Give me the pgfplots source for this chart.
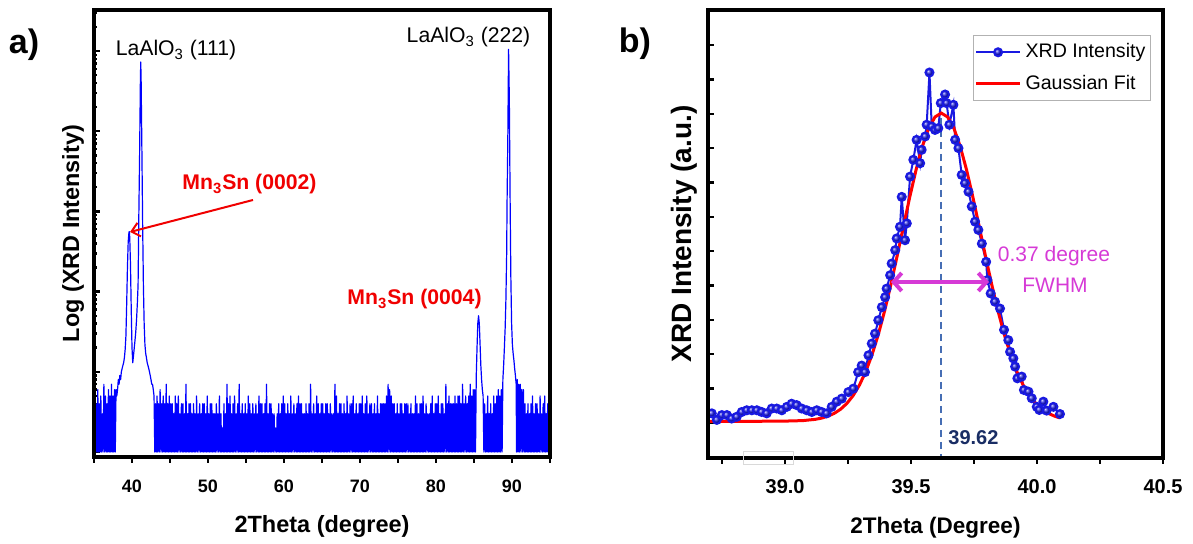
\documentclass[border=0pt]{standalone}
\usepackage{fontspec}
\setmainfont{Liberation Sans}
\usepackage{pgfplots}
\pgfplotsset{compat=1.18}
\usetikzlibrary{arrows.meta}
\definecolor{xblue}{RGB}{0,0,255}
\definecolor{bblue}{RGB}{25,25,225}
\definecolor{fitred}{RGB}{255,0,0}
\definecolor{anred}{RGB}{240,0,0}
\definecolor{mag}{RGB}{214,58,214}
\definecolor{dashblue}{RGB}{70,110,180}
\definecolor{navy}{RGB}{25,45,100}
\begin{document}
\begin{tikzpicture}
\path[use as bounding box] (0,0) rectangle (596.5pt,272pt);
% ---------------- panel a ----------------
\begin{axis}[
  name=A,
  at={(47pt,43.5pt)}, anchor=south west, scale only axis,
  width=228pt, height=223.5pt,
  xmin=35, xmax=95, ymode=log, ymin=0.867, ymax=3.25e5,
  xtick={35,40,...,95}, xticklabels={,40,,50,,60,,70,,80,,90,},
  ytick={1,10,100,1000,10000,100000}, yticklabels={},
  minor ytick={2,3,4,5,6,7,8,9,20,30,40,50,60,70,80,90,200,300,400,500,600,700,800,900,2000,3000,4000,5000,6000,7000,8000,9000,20000,30000,40000,50000,60000,70000,80000,90000,200000,300000},
  xtick pos=left, ytick pos=left, tick align=inside,
  major tick length=3pt, minor tick length=1.6pt,
  tick style={black, line width=1.2pt},
  xtick style={yshift=-3pt},
  xticklabel style={font=\bfseries\fontsize{9}{10}\selectfont, yshift=-8pt},
  xlabel={2Theta (degree)}, ylabel={Log (XRD Intensity)},
  xlabel style={font=\bfseries\fontsize{11.75}{13}\selectfont, at={(axis description cs:0.5,-0.1544)}, anchor=center},
  ylabel style={font=\bfseries\fontsize{11.7}{13}\selectfont, at={(axis description cs:-0.046,0.5)}, anchor=center},
]
\addplot[xblue, line width=0.6pt, line join=round] coordinates {
(35.0,1)(35.1,5)(35.2,1)(35.3,4)(35.4,1)(35.5,6)(35.6,1)(35.7,4)(35.8,1)(35.9,5)
(36.0,1)(36.1,3)(36.2,1)(36.3,7)(36.4,1)(36.5,5)(36.6,1)(36.7,4)(36.8,1)(36.9,6)
(37.0,1)(37.1,5)(37.2,1)(37.3,7)(37.4,1)(37.5,5)(37.6,1)(37.7,6)(37.8,1)(37.9,6)
(38.0,5)(38.1,6)(38.2,8)(38.3,7)(38.4,9)(38.5,8)(38.6,10)(38.7,11)(38.8,12)(38.9,13)
(39.0,15)(39.1,19)(39.2,28)(39.3,70)(39.4,200)(39.5,420)(39.6,550)(39.65,560)(39.7,480)(39.8,220)(39.9,60)
(40.0,20)(40.1,13)(40.2,16)(40.3,20)(40.4,25)(40.5,32)(40.6,45)(40.7,70)(40.8,120)(40.9,900)
(41.0,5000)(41.1,40000)(41.15,73000)(41.2,45000)(41.3,6000)(41.4,700)(41.5,120)(41.6,40)(41.7,22)(41.8,17)(41.9,15)
(42.0,13)(42.1,12)(42.2,11)(42.3,10)(42.4,9)(42.5,8)(42.6,7)(42.7,7)(42.8,6)(42.9,5)
(43.0,1)(43.1,4)(43.2,1)(43.3,5)(43.4,1)(43.5,4)(43.6,1)(43.7,6)(43.8,1)(43.9,4)
(44.0,1)(44.1,5)(44.2,1)(44.3,4)(44.4,1)(44.5,7)(44.6,1)(44.7,4)(44.8,1)(44.9,5)
(45.0,1)(45.1,4)(45.2,1)(45.3,4)(45.4,1)(45.5,3)(45.6,1)(45.7,5)(45.8,1)(45.9,4)
(46.0,1)(46.1,5)(46.2,1)(46.3,3)(46.4,1)(46.5,4)(46.6,1)(46.7,4)(46.8,1)(46.9,3)
(47.0,1)(47.1,7)(47.2,1)(47.3,3)(47.4,1)(47.5,4)(47.6,1)(47.7,4)(47.8,1)(47.9,3)
(48.0,1)(48.1,4)(48.2,1)(48.3,3)(48.4,1)(48.5,5)(48.6,1)(48.7,3)(48.8,1)(48.9,4)
(49.0,1)(49.1,3)(49.2,1)(49.3,4)(49.4,1)(49.5,4)(49.6,1)(49.7,3)(49.8,1)(49.9,5)
(50.0,1)(50.1,3)(50.2,1)(50.3,4)(50.4,1)(50.5,4)(50.6,1)(50.7,3)(50.8,1)(50.9,3)
(51.0,1)(51.1,4)(51.2,1)(51.3,3)(51.4,1)(51.5,5)(51.6,1)(51.7,3)(51.8,1)(51.9,2)
(52.0,1)(52.1,4)(52.2,1)(52.3,3)(52.4,1)(52.5,7)(52.6,1)(52.7,4)(52.8,1)(52.9,5)
(53.0,1)(53.1,3)(53.2,1)(53.3,4)(53.4,1)(53.5,5)(53.6,1)(53.7,3)(53.8,1)(53.9,4)
(54.0,1)(54.1,7)(54.2,1)(54.3,3)(54.4,1)(54.5,4)(54.6,1)(54.7,3)(54.8,1)(54.9,4)
(55.0,1)(55.1,3)(55.2,1)(55.3,5)(55.4,1)(55.5,4)(55.6,1)(55.7,3)(55.8,1)(55.9,4)
(56.0,1)(56.1,3)(56.2,1)(56.3,4)(56.4,1)(56.5,3)(56.6,1)(56.7,5)(56.8,1)(56.9,4)
(57.0,1)(57.1,4)(57.2,1)(57.3,3)(57.4,1)(57.5,4)(57.6,1)(57.7,7)(57.8,1)(57.9,3)
(58.0,1)(58.1,4)(58.2,1)(58.3,4)(58.4,1)(58.5,3)(58.6,1)(58.7,3)(58.8,1)(58.9,2)
(59.0,1)(59.1,3)(59.2,1)(59.3,4)(59.4,1)(59.5,3)(59.6,1)(59.7,4)(59.8,1)(59.9,5)
(60.0,1)(60.1,4)(60.2,1)(60.3,3)(60.4,1)(60.5,4)(60.6,1)(60.7,3)(60.8,1)(60.9,5)
(61.0,1)(61.1,3)(61.2,1)(61.3,4)(61.4,1)(61.5,3)(61.6,1)(61.7,4)(61.8,1)(61.9,5)
(62.0,1)(62.1,4)(62.2,1)(62.3,4)(62.4,1)(62.5,3)(62.6,1)(62.7,3)(62.8,1)(62.9,4)
(63.0,1)(63.1,3)(63.2,1)(63.3,4)(63.4,1)(63.5,7)(63.6,1)(63.7,3)(63.8,1)(63.9,4)
(64.0,1)(64.1,3)(64.2,1)(64.3,5)(64.4,1)(64.5,4)(64.6,1)(64.7,3)(64.8,1)(64.9,4)
(65.0,1)(65.1,4)(65.2,1)(65.3,3)(65.4,1)(65.5,4)(65.6,1)(65.7,4)(65.8,1)(65.9,3)
(66.0,1)(66.1,4)(66.2,1)(66.3,3)(66.4,1)(66.5,3)(66.6,1)(66.7,7)(66.8,1)(66.9,5)
(67.0,1)(67.1,3)(67.2,1)(67.3,4)(67.4,1)(67.5,4)(67.6,1)(67.7,3)(67.8,1)(67.9,4)
(68.0,1)(68.1,3)(68.2,1)(68.3,5)(68.4,1)(68.5,3)(68.6,1)(68.7,4)(68.8,1)(68.9,4)
(69.0,1)(69.1,5)(69.2,1)(69.3,3)(69.4,1)(69.5,4)(69.6,1)(69.7,3)(69.8,1)(69.9,4)
(70.0,1)(70.1,4)(70.2,1)(70.3,5)(70.4,1)(70.5,3)(70.6,1)(70.7,4)(70.8,1)(70.9,5)
(71.0,1)(71.1,3)(71.2,1)(71.3,4)(71.4,1)(71.5,4)(71.6,1)(71.7,3)(71.8,1)(71.9,4)
(72.0,1)(72.1,3)(72.2,1)(72.3,5)(72.4,1)(72.5,3)(72.6,1)(72.7,4)(72.8,1)(72.9,4)
(73.0,1)(73.1,4)(73.2,1)(73.3,4)(73.4,1)(73.5,5)(73.6,1)(73.7,7)(73.8,1)(73.9,6)
(74.0,1)(74.1,5)(74.2,1)(74.3,4)(74.4,1)(74.5,4)(74.6,1)(74.7,3)(74.8,1)(74.9,4)
(75.0,1)(75.1,3)(75.2,1)(75.3,4)(75.4,1)(75.5,4)(75.6,1)(75.7,3)(75.8,1)(75.9,4)
(76.0,1)(76.1,4)(76.2,1)(76.3,4)(76.4,1)(76.5,3)(76.6,1)(76.7,4)(76.8,1)(76.9,3)
(77.0,1)(77.1,3)(77.2,1)(77.3,5)(77.4,1)(77.5,4)(77.6,1)(77.7,3)(77.8,1)(77.9,4)
(78.0,1)(78.1,4)(78.2,1)(78.3,5)(78.4,1)(78.5,3)(78.6,1)(78.7,4)(78.8,1)(78.9,3)
(79.0,1)(79.1,3)(79.2,1)(79.3,4)(79.4,1)(79.5,5)(79.6,1)(79.7,3)(79.8,1)(79.9,4)
(80.0,1)(80.1,4)(80.2,1)(80.3,5)(80.4,1)(80.5,3)(80.6,1)(80.7,4)(80.8,1)(80.9,4)
(81.0,1)(81.1,3)(81.2,1)(81.3,7)(81.4,1)(81.5,4)(81.6,1)(81.7,5)(81.8,1)(81.9,4)
(82.0,1)(82.1,4)(82.2,1)(82.3,4)(82.4,1)(82.5,5)(82.6,1)(82.7,4)(82.8,1)(82.9,5)
(83.0,1)(83.1,5)(83.2,1)(83.3,4)(83.4,1)(83.5,7)(83.6,1)(83.7,4)(83.8,1)(83.9,5)
(84.0,1)(84.1,4)(84.2,1)(84.3,5)(84.4,1)(84.5,7)(84.6,1)(84.7,5)(84.8,1)(84.9,6)
(85.0,1)(85.1,6)(85.2,1)
(85.3,9)(85.4,20)(85.5,40)(85.6,50)(85.7,40)(85.8,22)(85.9,12)(86.0,8)(86.1,6)(86.2,5)
(86.3,1)(86.4,4)(86.5,1)(86.6,3)(86.7,1)(86.8,5)(86.9,1)(87.0,3)(87.1,1)(87.2,4)
(87.3,1)(87.4,3)(87.5,1)(87.6,5)(87.7,1)(87.8,4)(87.9,1)(88.0,5)(88.1,1)(88.2,6)
(88.3,1)(88.4,5)(88.5,1)(88.6,6)(88.7,1)
(88.8,8)(88.9,12)(89.0,20)(89.1,35)(89.2,80)(89.3,300)(89.35,1260)(89.45,8000)(89.55,105000)
(89.65,25000)(89.75,1500)(89.85,150)(89.95,40)(90.05,22)(90.15,17)(90.25,14)(90.35,11)(90.45,9)(90.55,7)
(90.6,1)(90.7,8)(90.8,1)(90.9,7)(91.0,1)(91.1,7)(91.2,1)(91.3,6)(91.4,1)(91.5,6)
(91.6,1)(91.7,4)(91.8,1)(91.9,3)(92.0,1)(92.1,4)(92.2,1)(92.3,3)(92.4,1)(92.5,4)
(92.6,1)(92.7,5)(92.8,1)(92.9,3)(93.0,1)(93.1,4)(93.2,1)(93.3,4)(93.4,1)(93.5,3)
(93.6,1)(93.7,5)(93.8,1)(93.9,3)(94.0,1)(94.1,4)(94.2,1)(94.3,5)(94.4,1)(94.5,3)
(94.6,1)(94.7,4)(94.8,1)(94.9,3)(95.0,1)
};
\end{axis}
\draw[line width=1.6pt] (A.south west) rectangle (A.north east);
% ---------------- panel b ----------------
\begin{axis}[
  name=B,
  at={(354pt,43pt)}, anchor=south west, scale only axis,
  width=227.5pt, height=224pt,
  xmin=38.694, xmax=40.5, ymin=-0.019, ymax=13.02,
  xtick={38.75,39,39.25,39.5,39.75,40,40.25,40.5},
  xticklabels={,39.0,,39.5,,40.0,,40.5},
  ytick={1,2,3,4,5,6,7,8,9,10,11,12}, yticklabels={},
  xtick pos=left, ytick pos=left, tick align=inside,
  major tick length=3pt,
  tick style={black, line width=1.2pt},
  xtick style={yshift=-3pt},
  xticklabel style={font=\bfseries\fontsize{10}{11}\selectfont, yshift=-7pt},
  xlabel={2Theta (Degree)}, ylabel={XRD Intensity (a.u.)},
  xlabel style={font=\bfseries\fontsize{11.25}{13}\selectfont, at={(axis description cs:0.5,-0.1563)}, anchor=center},
  ylabel style={font=\bfseries\fontsize{14}{15}\selectfont, at={(axis description cs:-0.0527,0.5)}, anchor=center},
  legend style={at={(0.9736,0.944)}, anchor=north east, draw=gray!60, line width=0.6pt,
    font=\fontsize{9.8}{11}\selectfont, inner xsep=0.5pt, inner ysep=2pt, row sep=3.2pt, cells={anchor=west}},
  legend image code/.code={\draw[mark repeat=2,mark phase=2,#1] plot coordinates {(0pt,0pt)(11pt,0pt)(22pt,0pt)};},
]
\addplot[bblue, line width=1pt, mark=ball, mark size=2pt, mark options={ball color=bblue}] coordinates {
(38.709,1.28)(38.729,1.09)(38.749,1.23)(38.769,1.23)(38.788,1.13)(38.808,1.18)(38.828,1.32)(38.848,1.37)
(38.868,1.37)(38.888,1.37)(38.907,1.32)(38.927,1.28)(38.947,1.42)(38.967,1.42)(38.987,1.37)(39.007,1.47)
(39.026,1.56)(39.046,1.52)(39.066,1.42)(39.086,1.37)(39.106,1.32)(39.126,1.37)(39.145,1.32)(39.165,1.28)
(39.185,1.47)(39.205,1.62)(39.225,1.71)(39.251,1.90)(39.271,2.00)(39.290,2.48)(39.304,2.67)(39.317,2.48)
(39.331,2.97)(39.344,3.31)(39.357,3.60)(39.370,3.99)(39.384,4.37)(39.397,4.66)(39.403,4.91)(39.417,5.30)
(39.423,5.64)(39.437,6.03)(39.443,6.37)(39.456,6.71)(39.463,7.58)(39.476,6.32)(39.483,6.81)(39.496,8.17)
(39.509,8.66)(39.522,9.24)(39.536,8.56)(39.542,8.95)(39.556,9.34)(39.562,9.68)(39.573,11.20)(39.582,9.63)
(39.595,9.53)(39.608,9.58)(39.618,10.31)(39.635,10.56)(39.641,10.31)(39.652,9.68)(39.668,10.26)(39.675,9.24)
(39.688,9.00)(39.701,8.22)(39.714,7.98)(39.728,7.73)(39.741,7.30)(39.754,6.86)(39.767,6.62)(39.781,6.22)
(39.798,5.69)(39.803,5.16)(39.816,4.77)(39.833,4.53)(39.853,4.33)(39.869,3.71)(39.886,3.41)(39.893,3.07)
(39.906,2.88)(39.913,2.64)(39.922,2.30)(39.939,2.35)(39.948,1.96)(39.966,1.91)(39.979,1.72)(39.999,1.47)
(40.009,1.38)(40.025,1.62)(40.038,1.36)(40.065,1.47)(40.091,1.26)
};
\addlegendentry{XRD Intensity}
\addplot[fitred, line width=1.5pt] coordinates {
(38.694,1.05)(38.9,1.05)(39.0,1.055)(39.07,1.069)(39.12,1.106)(39.145,1.142)(39.17,1.198)(39.195,1.280)
(39.22,1.399)(39.245,1.568)(39.27,1.797)(39.295,2.102)(39.32,2.495)(39.345,2.985)(39.37,3.575)(39.395,4.262)
(39.42,5.034)(39.445,5.870)(39.47,6.733)(39.495,7.584)(39.52,8.373)(39.545,9.053)(39.57,9.577)(39.595,9.907)
(39.62,10.02)(39.645,9.907)(39.67,9.577)(39.695,9.053)(39.72,8.373)(39.745,7.584)(39.77,6.733)(39.795,5.870)
(39.82,5.034)(39.845,4.262)(39.87,3.575)(39.895,2.985)(39.92,2.495)(39.945,2.102)(39.97,1.797)(39.995,1.568)
(40.02,1.399)(40.045,1.280)(40.07,1.198)(40.09,1.15)
};
\addlegendentry{Gaussian Fit}
\draw[dashblue, line width=1pt, dash pattern=on 3.5pt off 2.5pt] (axis cs:39.62,9.88) -- (axis cs:39.62,-0.019);
\end{axis}
\draw[line width=1.6pt] (B.south west) rectangle (B.north east);
% ---------------- annotations (pixel coordinates) ----------------
\begin{scope}[x=0.5pt,y=-0.5pt,yshift=272pt]
\node[font=\bfseries\fontsize{17}{19}\selectfont] at (24,45) {a)};
\node[font=\bfseries\fontsize{17}{19}\selectfont] at (635,44) {b)};
\node[anchor=base, font=\fontsize{10.6}{12}\selectfont] at (176,56) {LaAlO\textsubscript{3} (111)};
\node[anchor=base, font=\fontsize{10.6}{12}\selectfont] at (468.5,43) {LaAlO\textsubscript{3} (222)};
\node[anchor=base west, inner sep=0pt, anred, font=\bfseries\fontsize{10.6}{12}\selectfont] at (182,190) {Mn\textsubscript{3}Sn (0002)};
\node[anchor=base east, inner sep=0pt, anred, font=\bfseries\fontsize{10.6}{12}\selectfont] at (482,305) {Mn\textsubscript{3}Sn (0004)};
\draw[anred, line width=1pt, -{Straight Barb[length=4pt,width=7pt]}] (253,200) -- (130,232);
\node[anchor=base, mag, font=\fontsize{10.5}{12}\selectfont] at (1054,262) {0.37 degree};
\node[anchor=base, mag, font=\fontsize{10.5}{12}\selectfont] at (1055,293) {FWHM};
\draw[mag, line width=2pt, {Straight Barb[length=4pt,width=9pt]}-{Straight Barb[length=4pt,width=9pt]}] (891,282) -- (989,282);
\node[anchor=base west, inner sep=0pt, navy, font=\bfseries\fontsize{10}{12}\selectfont] at (948,445) {39.62};
\draw[gray!30, line width=0.4pt] (743,451) rectangle (793,464);
\end{scope}
\end{tikzpicture}
\end{document}
